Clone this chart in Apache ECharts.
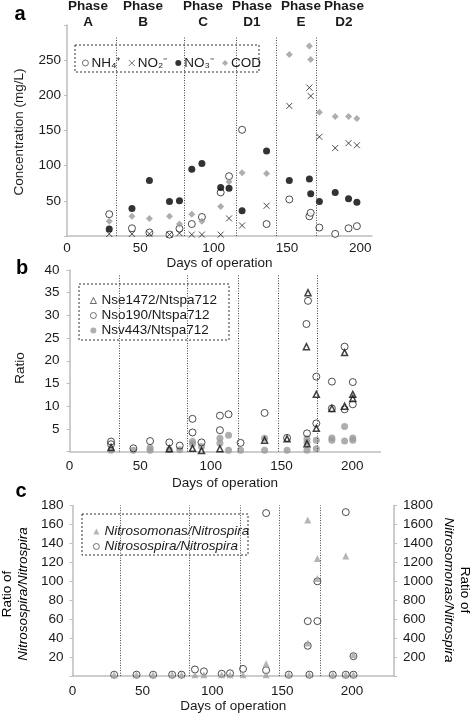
<!DOCTYPE html>
<html><head><meta charset="utf-8">
<script src="https://cdn.jsdelivr.net/npm/echarts@6/dist/echarts.min.js"></script>
<style>html,body{margin:0;padding:0;background:#fff}#c{width:472px;height:714px}</style>
</head><body><div id="c"></div>
<script>
// ---------- Panel a: concentrations (mg/L) ----------
const daysA = [28.8, 44.3, 56.2, 69.9, 76.7, 85.1, 92, 104.8, 110.5, 119.4, 136.1, 151.6, 165.3, 166.2, 172.1, 182.9, 192, 197.7];
const nh4   = [31, 11, 5, 2, 10.5, 17, 27, 62, 85, 151, 17, 52, 28, 33, 12, 3, 11, 14];
const no2   = [3, 3, 3, 2, 4, 2, 2, 2, 25, 15, 43, 185, 211, 199, 141, 125, 132, 129];
const no3   = [10, 39, 79, 49, 50, 95, 103, 69, 68, 36, 121, 79, 81, 60, 49, 62, 53, 48];
const cod   = [21, 28, 25, 28, 17, 31, 21, 42, 77, 90, 89, 258, 270, 251, 176, 170, 170, 167];
const phaseA = [33.6, 80.3, 115.5, 142.5, 169.9];

// ---------- Panel b: FISH ratios ----------
const nseDays = [29.4, 70.6, 87, 93.4, 106.4, 138, 153.9, 168, 168.7, 167.6, 174.6, 174.6, 185.6, 194.6, 194.6, 200.4, 200.4];
const nseVals = [0.9, 0.6, 0.7, 0.2, 0.6, 2.5, 2.8, 1.7, 35, 23.1, 12.6, 5.1, 9.5, 21.8, 10, 12.6, 11.7];
const nsoDays = [29.4, 29.4, 45.2, 57, 70.6, 78, 87, 87, 93.4, 106.4, 106.4, 112.5, 121, 138, 153.9, 168, 168.7, 167.6, 174.6, 174.6, 185.6, 185.6, 194.6, 194.6, 200.4, 200.4];
const nsoVals = [2.2, 1.6, 0.7, 2.3, 2.0, 1.3, 7.2, 4.2, 2.0, 7.9, 4.7, 8.2, 1.9, 8.5, 3.0, 4.0, 33.2, 28.1, 16.5, 6.2, 15.4, 9.5, 23.1, 9.3, 15.3, 10.4];
const nsvDays = [29.4, 45.2, 57, 57, 70.6, 78, 87, 87, 93.4, 106.4, 106.4, 112.5, 112.5, 121, 138, 138, 153.9, 168, 168, 168, 174.6, 174.6, 185.6, 185.6, 194.6, 194.6, 200.4, 200.4];
const nsvVals = [0.3, 0.3, 0.8, 0.3, 0.4, 0.4, 2.2, 1.7, 1.1, 2.9, 1.8, 3.6, 0.3, 0.3, 2.9, 0.3, 0.3, 2.8, 2.0, 0.3, 2.5, 0.6, 3.0, 2.5, 5.5, 2.3, 3.0, 2.5];
const phaseB = [34.9, 83.1, 119.3, 147.5, 175.3];

// ---------- Panel c: qPCR ratios ----------
const daysC = [29.8, 45.8, 57.7, 71.3, 78, 87.6, 94, 106.7, 112.7, 122, 138.5, 138.5, 154.7, 168.3, 168.3, 169.5, 175.2, 175.2, 186.2, 195.5, 195.5, 201, 201];
const spiraVals = [1.5, 1.5, 1.5, 1.5, 1.5, 7, 5, 2.5, 3, 7.6, 172, 6.2, 1.5, 58, 32, 1.5, 100, 58, 1.5, 173, 1.5, 21, 1.5];
const monasVals = [15, 15, 15, 15, 15, 15, 15, 15, 15, 15, 130, 15, 15, 1648, 350, 15, 1240, 1030, 15, 1267, 15, 225, 15];
const phaseC = [33.9, 83.3, 119.8, 148, 177.2];

const phaseNames = ['A', 'B', 'C', 'D1', 'E', 'D2'];
const phaseLabelX = [88, 143, 203, 252, 301, 344];

const FONT = 'Liberation Sans, Arial, sans-serif';
const zip = (a, b) => a.map((v, i) => [v, b[i]]);
const axisGray = '#bdbdbd';
const textCol = '#1a1a1a';

function phaseLines(arr, top) {
  return {
    silent: true, symbol: 'none', animation: false,
    label: { show: false },
    lineStyle: { color: '#444', type: [1, 1.5], width: 1 },
    data: arr.map(d => [{ coord: [d, 0] }, { coord: [d, top] }])
  };
}

function xAx(gi, max, labelMargin) {
  return {
    gridIndex: gi, type: 'value', min: 0, max: max, interval: 50,
    axisLine: { show: true, lineStyle: { color: axisGray, width: 1.5 } },
    axisTick: { show: false },
    splitLine: { show: false },
    axisLabel: { color: textCol, fontSize: 13.5, fontFamily: FONT, margin: labelMargin,
      formatter: v => (v % 50 === 0 ? String(v) : '') , showMaxLabel: true }
  };
}
function yAx(gi, max, interval, margin, pos, hideMax) {
  return {
    gridIndex: gi, type: 'value', min: 0, max: max, interval: interval, position: pos || 'left',
    axisLine: { show: true, lineStyle: { color: axisGray, width: 1.5 } },
    axisTick: { show: true, length: 3, lineStyle: { color: axisGray } },
    splitLine: { show: false },
    axisLabel: { color: textCol, fontSize: 13.5, fontFamily: FONT, margin: margin,
      formatter: v => (v === 0 || (hideMax && v === max)) ? '' : String(v) }
  };
}

const chart = echarts.init(document.getElementById('c'), null, { renderer: 'canvas' });

const crossPath = 'path://M0,0L10,10M10,0L0,10';

const graphics = [
  // legend boxes
  { type: 'rect', z: 3, shape: { x: 75, y: 45, width: 184, height: 27 }, style: { fill: '#fff', stroke: '#333', lineWidth: 1, lineDash: [2, 2] } },
  { type: 'rect', z: 3, shape: { x: 79, y: 284, width: 150, height: 56 }, style: { fill: '#fff', stroke: '#333', lineWidth: 1, lineDash: [2, 2] } },
  { type: 'rect', z: 3, shape: { x: 82, y: 514, width: 166, height: 41 }, style: { fill: '#fff', stroke: '#333', lineWidth: 1, lineDash: [2, 2] } },
  // panel letters
  { type: 'text', x: 20, y: 14, style: { text: 'a', font: 'bold 20px ' + FONT, fill: '#000', textAlign: 'center', textVerticalAlign: 'middle' } },
  { type: 'text', x: 22, y: 268, style: { text: 'b', font: 'bold 20px ' + FONT, fill: '#000', textAlign: 'center', textVerticalAlign: 'middle' } },
  { type: 'text', x: 21, y: 491, style: { text: 'c', font: 'bold 20px ' + FONT, fill: '#000', textAlign: 'center', textVerticalAlign: 'middle' } },
  // y axis titles
  { type: 'text', x: 19, y: 132, rotation: Math.PI / 2, style: { text: 'Concentration (mg/L)', font: '13.5px ' + FONT, fill: textCol, textAlign: 'center', textVerticalAlign: 'middle' } },
  { type: 'text', x: 20, y: 368, rotation: Math.PI / 2, style: { text: 'Ratio', font: '13.5px ' + FONT, fill: textCol, textAlign: 'center', textVerticalAlign: 'middle' } },
  { type: 'text', x: 15, y: 594, rotation: Math.PI / 2, style: {
      text: '{n|Ratio of}\n{i|Nitrosospira/Nitrospira}', textAlign: 'center', textVerticalAlign: 'middle',
      rich: { n: { fontSize: 13.5, fontFamily: FONT, color: textCol, lineHeight: 16 }, i: { fontSize: 13.5, fontFamily: FONT, fontStyle: 'italic', color: textCol, lineHeight: 16 } } } },
  { type: 'text', x: 457, y: 590, rotation: -Math.PI / 2, style: {
      text: '{n|Ratio of}\n{i|Nitrosomonas/Nitrospira}', textAlign: 'center', textVerticalAlign: 'middle',
      rich: { n: { fontSize: 13.5, fontFamily: FONT, color: textCol, lineHeight: 16 }, i: { fontSize: 13.5, fontFamily: FONT, fontStyle: 'italic', color: textCol, lineHeight: 16 } } } }
];
phaseNames.forEach((p, i) => {
  graphics.push({ type: 'text', x: phaseLabelX[i], y: 14, style: { text: 'Phase\n' + p, font: 'bold 13.5px ' + FONT, fill: textCol, textAlign: 'center', textVerticalAlign: 'middle', lineHeight: 16 } });
});

const legText = { fontSize: 13.5, fontFamily: FONT, color: textCol, lineHeight: 15 };

const option = {
  animation: false,
  backgroundColor: '#fff',
  textStyle: { fontFamily: FONT },
  grid: [
    { left: 67, top: 25, width: 305, height: 211 },
    { left: 69.5, top: 270, width: 311, height: 181.5 },
    { left: 72.5, top: 505.5, width: 321.5, height: 173.5 }
  ],
  xAxis: [
    Object.assign(xAx(0, 208, 5), { name: 'Days of operation', nameLocation: 'middle', nameGap: 20, nameTextStyle: { color: textCol, fontSize: 13.5, fontFamily: FONT } }),
    Object.assign(xAx(1, 220, 8), { name: 'Days of operation', nameLocation: 'middle', nameGap: 25, nameTextStyle: { color: textCol, fontSize: 13.5, fontFamily: FONT } }),
    Object.assign(xAx(2, 230, 8), { name: 'Days of operation', nameLocation: 'middle', nameGap: 20, nameTextStyle: { color: textCol, fontSize: 13.5, fontFamily: FONT } })
  ],
  yAxis: [
    yAx(0, 300, 50, 6, 'left', true),
    yAx(1, 40, 5, 10),
    yAx(2, 180, 20, 9),
    yAx(2, 1800, 200, 9, 'right')
  ],
  legend: [
    { left: 77, top: 51, orient: 'horizontal', itemWidth: 6, itemHeight: 6, itemGap: 7,
      itemStyle: { borderWidth: 0.8 },
      textStyle: { fontSize: 13.5, fontFamily: FONT, color: textCol, padding: [0, 0, 0, -2] },
      data: ['NH\u2084\u207A', 'NO\u2082\u207B', 'NO\u2083\u207B', 'COD'] },
    { left: 85, top: 288, orient: 'vertical', itemWidth: 6, itemHeight: 6, itemGap: 0,
      itemStyle: { borderWidth: 0.8 },
      textStyle: legText,
      data: ['Nse1472/Ntspa712', 'Nso190/Ntspa712', 'Nsv443/Ntspa712'] },
    { left: 88, top: 519, orient: 'vertical', itemWidth: 6, itemHeight: 6, itemGap: 0,
      itemStyle: { borderWidth: 0.8 },
      textStyle: Object.assign({}, legText, { fontStyle: 'italic' }),
      data: ['Nitrosomonas/Nitrospira', 'Nitrosospira/Nitrospira'] }
  ],
  graphic: graphics,
  series: [
    { name: 'NH\u2084\u207A', type: 'scatter', xAxisIndex: 0, yAxisIndex: 0, symbol: 'circle', symbolSize: 7,
      itemStyle: { color: '#fff', borderColor: '#222', borderWidth: 1 }, data: zip(daysA, nh4),
      markLine: phaseLines(phaseA, 283) },
    { name: 'NO\u2082\u207B', type: 'scatter', xAxisIndex: 0, yAxisIndex: 0, symbol: crossPath, symbolSize: 6,
      itemStyle: { color: 'rgba(0,0,0,0)', borderColor: '#222', borderWidth: 1 }, data: zip(daysA, no2) },
    { name: 'NO\u2083\u207B', type: 'scatter', xAxisIndex: 0, yAxisIndex: 0, symbol: 'circle', symbolSize: 7,
      itemStyle: { color: '#000' }, data: zip(daysA, no3) },
    { name: 'COD', type: 'scatter', xAxisIndex: 0, yAxisIndex: 0, symbol: 'diamond', symbolSize: 7,
      itemStyle: { color: '#9a9a9a' }, data: zip(daysA, cod) },

    { name: 'Nsv443/Ntspa712', type: 'scatter', xAxisIndex: 1, yAxisIndex: 1, symbol: 'circle', symbolSize: 7,
      itemStyle: { color: '#9a9a9a' }, data: zip(nsvDays, nsvVals),
      markLine: phaseLines(phaseB, 38.9) },
    { name: 'Nso190/Ntspa712', type: 'scatter', xAxisIndex: 1, yAxisIndex: 1, symbol: 'circle', symbolSize: 7,
      itemStyle: { color: 'rgba(255,255,255,0)', borderColor: '#222', borderWidth: 1 }, data: zip(nsoDays, nsoVals) },
    { name: 'Nse1472/Ntspa712', type: 'scatter', xAxisIndex: 1, yAxisIndex: 1, symbol: 'triangle', symbolSize: 6,
      itemStyle: { color: 'rgba(255,255,255,0)', borderColor: '#111', borderWidth: 1.5 }, data: zip(nseDays, nseVals) },

    { name: 'Nitrosospira/Nitrospira', type: 'scatter', xAxisIndex: 2, yAxisIndex: 2, symbol: 'circle', symbolSize: 7,
      itemStyle: { color: 'rgba(255,255,255,0)', borderColor: '#222', borderWidth: 1 }, data: zip(daysC, spiraVals),
      markLine: phaseLines(phaseC, 180) },
    { name: 'Nitrosomonas/Nitrospira', type: 'scatter', xAxisIndex: 2, yAxisIndex: 3, symbol: 'triangle', symbolSize: 7,
      itemStyle: { color: '#a3a3a3' }, data: zip(daysC, monasVals) }
  ]
};
chart.setOption(option);
</script>
</body></html>
